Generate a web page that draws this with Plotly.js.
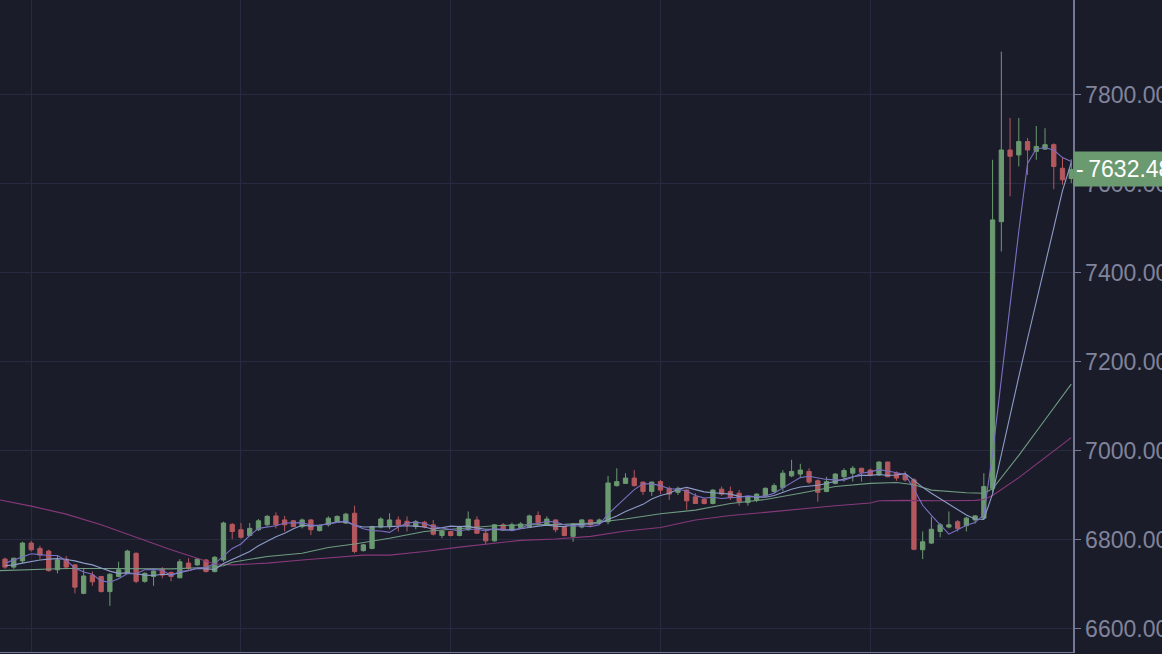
<!DOCTYPE html>
<html>
<head>
<meta charset="utf-8">
<script src="https://cdn.plot.ly/plotly-3.0.1.min.js"></script>
<style>
  html, body { margin: 0; padding: 0; background: #1b1c2a; }
  #chart { width: 1162px; height: 654px; }
</style>
</head>
<body>
<div id="chart"></div>
<script>
// ---- OHLC candles (hourly) ----
const open  = [6757,6739,6753,6793,6781,6775,6733,6757,6744,6680,6721,6718,6684,6718,6725,6770,6707,6718,6734,6727,
               6715,6748,6744,6755,6729,6755,6835,6823,6810,6823,6834,6854,6845,6843,6830,6845,6821,6834,6841,6838,
               6860,6776,6781,6829,6830,6845,6842,6830,6840,6834,6810,6819,6810,6823,6845,6815,6798,6834,6824,6828,
               6829,6855,6835,6845,6828,6808,6829,6845,6838,6841,6922,6927,6939,6930,6909,6931,6916,6907,6912,6897,
               6891,6882,6914,6909,6905,6884,6890,6899,6909,6918,6944,6948,6954,6933,6909,6927,6942,6950,6961,6957,
               6946,6975,6950,6946,6935,6778,6793,6819,6829,6841,6832,6845,6849,6916,7515,7676,7665,7695,7673,7678,
               7688,7635,7612];
const high  = [6760,6760,6796,6798,6787,6778,6766,6764,6746,6736,6729,6719,6725,6751,6778,6772,6727,6736,6739,6729,
               6757,6759,6759,6757,6764,6841,6838,6838,6838,6847,6856,6862,6854,6845,6848,6847,6835,6853,6855,6861,
               6877,6791,6832,6851,6860,6853,6853,6845,6843,6845,6823,6821,6832,6864,6853,6823,6836,6838,6839,6840,
               6857,6864,6853,6846,6830,6838,6847,6846,6848,6944,6961,6950,6957,6931,6931,6935,6920,6920,6914,6905,
               6893,6914,6920,6920,6912,6899,6905,6918,6927,6957,6980,6971,6961,6936,6942,6950,6961,6966,6962,6960,
               6977,6976,6954,6954,6939,6819,6852,6838,6864,6845,6852,6856,6950,7654,7897,7748,7748,7703,7730,7725,
               7691,7658,7655];
const low   = [6735,6735,6748,6774,6757,6729,6725,6734,6680,6678,6697,6682,6652,6716,6724,6703,6704,6697,6714,6707,
               6714,6731,6742,6727,6727,6751,6802,6803,6808,6820,6830,6826,6819,6829,6826,6811,6819,6830,6839,6836,
               6770,6774,6779,6826,6824,6819,6819,6824,6826,6810,6804,6808,6808,6820,6814,6789,6796,6823,6823,6826,
               6827,6834,6834,6817,6808,6796,6826,6829,6836,6835,6920,6926,6920,6901,6899,6903,6890,6901,6868,6881,
               6880,6880,6899,6890,6877,6877,6885,6897,6905,6909,6941,6941,6926,6886,6907,6925,6931,6931,6931,6943,
               6944,6941,6933,6931,6777,6757,6791,6806,6826,6819,6819,6837,6847,6905,7448,7572,7639,7620,7654,7676,
               7588,7598,7602];
const close = [6739,6759,6793,6778,6766,6731,6755,6739,6694,6719,6706,6684,6723,6733,6775,6707,6725,6730,6721,6718,
               6751,6736,6757,6729,6761,6838,6819,6806,6826,6843,6853,6834,6834,6830,6845,6823,6832,6849,6853,6858,
               6774,6789,6830,6847,6845,6834,6834,6841,6829,6813,6820,6810,6829,6847,6815,6798,6834,6824,6834,6836,
               6854,6838,6847,6823,6810,6836,6845,6834,6845,6928,6931,6939,6922,6909,6930,6912,6903,6916,6888,6882,
               6882,6912,6903,6896,6886,6896,6903,6916,6922,6950,6954,6957,6930,6907,6931,6948,6956,6961,6952,6946,
               6975,6942,6939,6935,6779,6796,6824,6834,6834,6826,6849,6854,6920,7519,7676,7662,7695,7676,7684,7688,
               7639,7609,7632.48];

// ---- moving-average lines ----
const ma5  = [6748,6755,6763,6769,6767,6765,6765,6754,6737,6728,6723,6708,6705,6713,6724,6724,6733,6734,6732,6720,
              6729,6731,6737,6738,6747,6764,6781,6791,6810,6826,6829,6832,6838,6839,6839,6833,6833,6836,6840,6843,
              6833,6825,6821,6820,6817,6829,6838,6840,6837,6830,6827,6823,6820,6824,6824,6820,6825,6824,6821,6825,
              6836,6837,6842,6840,6834,6831,6832,6830,6834,6858,6877,6895,6913,6926,6926,6922,6915,6914,6910,6900,
              6894,6896,6893,6895,6896,6899,6897,6899,6905,6917,6929,6940,6943,6940,6936,6935,6934,6941,6950,6953,
              6958,6955,6951,6947,6914,6878,6855,6834,6813,6823,6833,6839,6857,6994,7164,7326,7494,7646,7679,7681,
              7676,7659,7650];
const ma10 = [6742,6744,6748,6752,6755,6757,6758,6756,6753,6748,6744,6737,6730,6725,6726,6724,6721,6720,6723,6722,
              6727,6732,6736,6735,6734,6747,6756,6764,6774,6787,6797,6807,6815,6825,6833,6831,6833,6837,6840,6841,
              6833,6829,6829,6830,6830,6831,6832,6831,6829,6824,6828,6831,6830,6831,6827,6824,6824,6822,6823,6825,
              6828,6831,6833,6831,6830,6834,6835,6836,6837,6846,6854,6864,6872,6880,6892,6900,6905,6914,6918,6913,
              6908,6906,6904,6903,6898,6897,6897,6896,6900,6907,6914,6919,6921,6923,6927,6932,6937,6942,6945,6945,
              6947,6945,6946,6949,6934,6918,6905,6893,6880,6869,6856,6847,6846,6904,6994,7080,7167,7252,7337,7423,
              7501,7585,7648];
const ma30X = [-0.6,3,7,11,15,19,23,25,26,30,34,37,40,44,48,52,56,60,64,67,71,75,79,83,87,91,95,99,102,104,106,110,112,113,116,119,122];
const ma30  = [6731,6734,6736,6736,6735,6735,6738,6742,6750,6763,6770,6783,6791,6804,6819,6826,6832,6834,6835,6838,6847,6859,6867,6882,6891,6905,6920,6927,6929,6924,6912,6906,6905,6915,6990,7070,7150];
const ma60X = [-0.6,3,7,11,15,19,22,24,26,30,34,38,41,44,48,52,56,59,63,67,71,75,79,83,87,91,95,99,100,103,107,111,112,113,116,119,122];
const ma60  = [6890,6876,6858,6834,6806,6778,6759,6746,6744,6748,6755,6761,6766,6766,6774,6784,6793,6799,6802,6808,6820,6828,6845,6855,6862,6870,6877,6883,6888,6889,6888,6889,6891,6900,6940,6985,7030];

const dayTicks = [3, 27, 51, 75, 99];
const priceTicks = [6600, 6800, 7000, 7200, 7400, 7600, 7800];
const lastPrice = close[close.length - 1];

const idx = close.map((_, i) => i);

const C_UP = '#6b9a70', C_DN = '#b5585e';
const BG = '#1b1c2a', GRID = '#272b40', AXIS = '#737896', TXT = '#80849c';
const FONT = '"Liberation Sans", Arial, sans-serif';

const traces = [
  {
    type: 'candlestick', x: idx, open: open, high: high, low: low, close: close,
    increasing: { line: { color: C_UP, width: 1 }, fillcolor: C_UP },
    decreasing: { line: { color: C_DN, width: 1 }, fillcolor: C_DN },
    whiskerwidth: 0, hoverinfo: 'skip', showlegend: false
  },
  { type: 'scatter', mode: 'lines', x: ma60X, y: ma60, line: { color: '#86397a', width: 1.1 }, hoverinfo: 'skip', showlegend: false },
  { type: 'scatter', mode: 'lines', x: ma30X, y: ma30, line: { color: '#6f9c80', width: 1.1 }, hoverinfo: 'skip', showlegend: false },
  { type: 'scatter', mode: 'lines', x: idx, y: ma10, line: { color: '#8d9cc8', width: 1.1 }, hoverinfo: 'skip', showlegend: false },
  { type: 'scatter', mode: 'lines', x: idx, y: ma5, line: { color: '#7b70c2', width: 1.1 }, hoverinfo: 'skip', showlegend: false }
];

const layout = {
  width: 1162, height: 654, autosize: false,
  paper_bgcolor: BG, plot_bgcolor: BG,
  margin: { l: 0, r: 89, t: 0, b: 2, pad: 0 },
  font: { family: FONT, color: TXT, size: 23 },
  showlegend: false,
  xaxis: {
    type: 'linear', range: [-0.572, 122.2], fixedrange: true,
    rangeslider: { visible: false },
    tickmode: 'array', tickvals: dayTicks, showticklabels: false, ticks: '',
    showgrid: true, gridcolor: GRID, gridwidth: 1, zeroline: false,
    showline: true, linecolor: AXIS, linewidth: 1
  },
  yaxis: {
    side: 'right', range: [6548.3, 8013], fixedrange: true,
    tickmode: 'array', tickvals: priceTicks, ticktext: priceTicks.map(v => v.toFixed(2)),
    ticks: 'outside', ticklen: 6, tickcolor: AXIS, tickwidth: 1,
    tickfont: { size: 23, color: TXT, family: FONT },
    showgrid: true, gridcolor: GRID, gridwidth: 1, zeroline: false,
    showline: true, linecolor: AXIS, linewidth: 1.5
  },
  annotations: [{
    xref: 'paper', x: 1, xanchor: 'left', yref: 'y', y: lastPrice, yanchor: 'middle',
    text: '-\u2009' + lastPrice.toFixed(2), showarrow: false, align: 'left',
    font: { size: 23, color: '#ffffff', family: FONT },
    bgcolor: C_UP, borderpad: 2, width: 96, height: 30
  }]
};

Plotly.newPlot('chart', traces, layout, { displayModeBar: false, staticPlot: true });
</script>
</body>
</html>
